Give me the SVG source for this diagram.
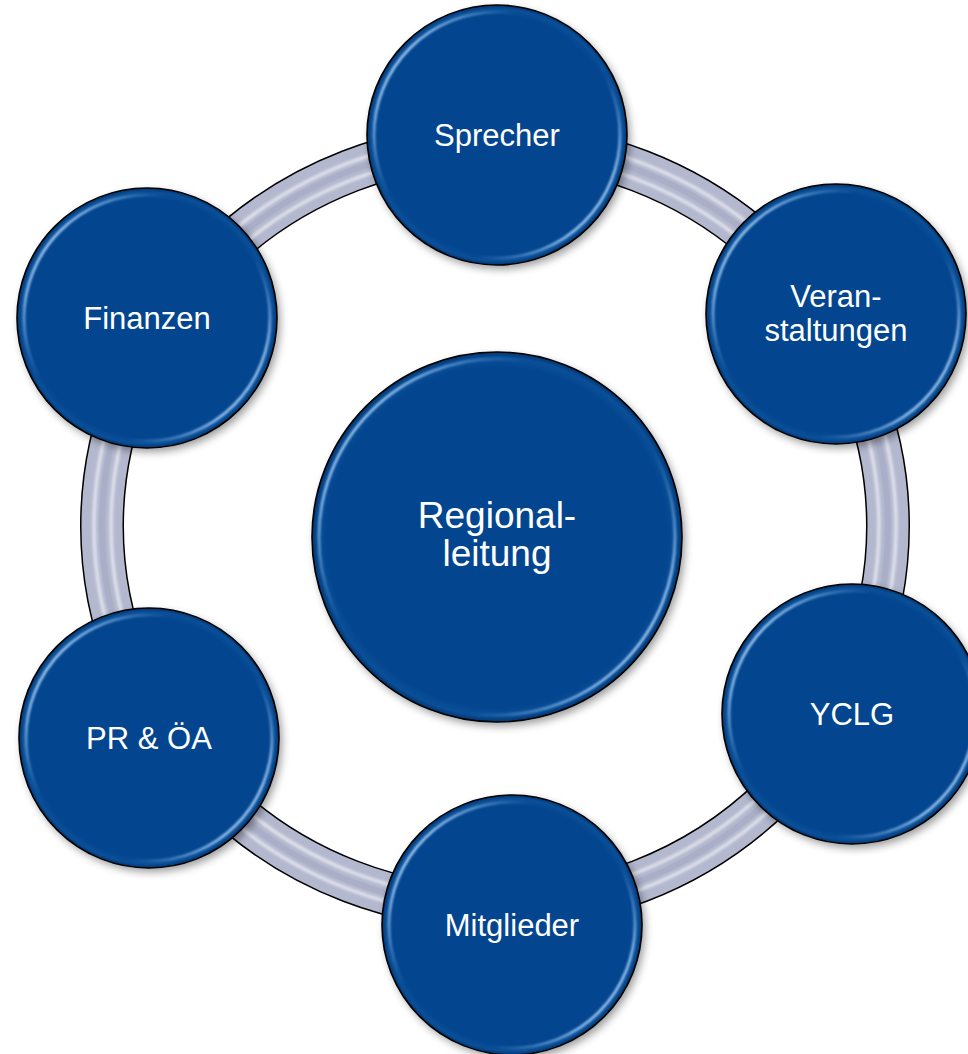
<svg xmlns="http://www.w3.org/2000/svg" width="968" height="1054" viewBox="0 0 968 1054">
  <defs>
    <filter id="shadow" x="-30%" y="-30%" width="160%" height="160%">
      <feGaussianBlur stdDeviation="4"/>
    </filter>
    <filter id="soft" x="-10%" y="-10%" width="120%" height="120%">
      <feGaussianBlur stdDeviation="1.2"/>
    </filter>
    <filter id="stripe" x="-10%" y="-10%" width="120%" height="120%">
      <feGaussianBlur stdDeviation="1.6"/>
    </filter>
    <linearGradient id="bevel" x1="0" y1="0.15" x2="1" y2="0.85">
      <stop offset="0" stop-color="#d8ecff" stop-opacity="1"/>
      <stop offset="0.12" stop-color="#9cc8f5" stop-opacity="0.9"/>
      <stop offset="0.32" stop-color="#5f97d8" stop-opacity="0"/>
      <stop offset="0.68" stop-color="#5f97d8" stop-opacity="0"/>
      <stop offset="0.88" stop-color="#9cc8f5" stop-opacity="0.9"/>
      <stop offset="1" stop-color="#d8ecff" stop-opacity="1"/>
    </linearGradient>
    <radialGradient id="fillg" cx="0.5" cy="0.5" r="0.5">
      <stop offset="0" stop-color="#03468f"/>
      <stop offset="0.92" stop-color="#03468f"/>
      <stop offset="0.97" stop-color="#0a4f98"/>
      <stop offset="1" stop-color="#02346e"/>
    </radialGradient>
  </defs>
  <style>
    .node-shadow { fill: #000; opacity: 0.4; filter: url(#shadow); }
    .node-body { fill: url(#fillg); stroke: #000; stroke-width: 1.6; }
    .node-bevel { fill: none; stroke: url(#bevel); stroke-width: 2.6; filter: url(#soft); }
    .label { fill: #ffffff; font-family: "Liberation Sans", Arial, sans-serif; font-size: 31px; text-anchor: middle; }
    .label-big { font-size: 37px; }
    .ring-outline { fill: none; stroke: #000; stroke-width: 44; }
    .ring-body { fill: none; stroke: #b4b8cf; stroke-width: 41; }
    .ring-stripe { fill: none; stroke: #ffffff; stroke-width: 3; opacity: 0.7; filter: url(#stripe); }
    .ring-dark { fill: none; stroke: #a3a8c2; stroke-width: 6; opacity: 0.6; }
  </style>

  <rect width="968" height="1054" fill="#ffffff"/>

  <g id="connectors">
    <ellipse class="ring-outline" cx="495" cy="526" rx="393" ry="382"/>
    <ellipse class="ring-body" cx="495" cy="526" rx="393" ry="382"/>
    <ellipse class="ring-dark" cx="495" cy="526" rx="393" ry="382"/>
    <ellipse class="ring-stripe" cx="495" cy="526" rx="384" ry="373"/>
    <ellipse class="ring-stripe" cx="495" cy="526" rx="401" ry="390"/>
  </g>

  <g id="node-regionalleitung">
    <circle class="node-shadow" cx="500" cy="541" r="185"/>
    <circle class="node-body" cx="497" cy="537" r="185"/>
    <circle class="node-bevel" cx="497" cy="537" r="178"/>
    <text class="label label-big" x="497" y="528">Regional-</text>
    <text class="label label-big" x="497" y="566">leitung</text>
  </g>

  <g id="node-sprecher">
    <circle class="node-shadow" cx="500" cy="139" r="130"/>
    <circle class="node-body" cx="497" cy="135" r="130"/>
    <circle class="node-bevel" cx="497" cy="135" r="123"/>
    <text class="label" x="497" y="146">Sprecher</text>
  </g>

  <g id="node-veranstaltungen">
    <circle class="node-shadow" cx="839" cy="318" r="130"/>
    <circle class="node-body" cx="836" cy="314" r="130"/>
    <circle class="node-bevel" cx="836" cy="314" r="123"/>
    <text class="label" x="836" y="307">Veran-</text>
    <text class="label" x="836" y="341">staltungen</text>
  </g>

  <g id="node-yclg">
    <circle class="node-shadow" cx="855" cy="718" r="130"/>
    <circle class="node-body" cx="852" cy="714" r="130"/>
    <circle class="node-bevel" cx="852" cy="714" r="123"/>
    <text class="label" x="852" y="725">YCLG</text>
  </g>

  <g id="node-mitglieder">
    <circle class="node-shadow" cx="515" cy="929" r="130"/>
    <circle class="node-body" cx="512" cy="925" r="130"/>
    <circle class="node-bevel" cx="512" cy="925" r="123"/>
    <text class="label" x="512" y="936">Mitglieder</text>
  </g>

  <g id="node-pr-oea">
    <circle class="node-shadow" cx="152" cy="742" r="130"/>
    <circle class="node-body" cx="149" cy="738" r="130"/>
    <circle class="node-bevel" cx="149" cy="738" r="123"/>
    <text class="label" x="149" y="749">PR &amp; ÖA</text>
  </g>

  <g id="node-finanzen">
    <circle class="node-shadow" cx="150" cy="322" r="130"/>
    <circle class="node-body" cx="147" cy="318" r="130"/>
    <circle class="node-bevel" cx="147" cy="318" r="123"/>
    <text class="label" x="147" y="329">Finanzen</text>
  </g>
</svg>
